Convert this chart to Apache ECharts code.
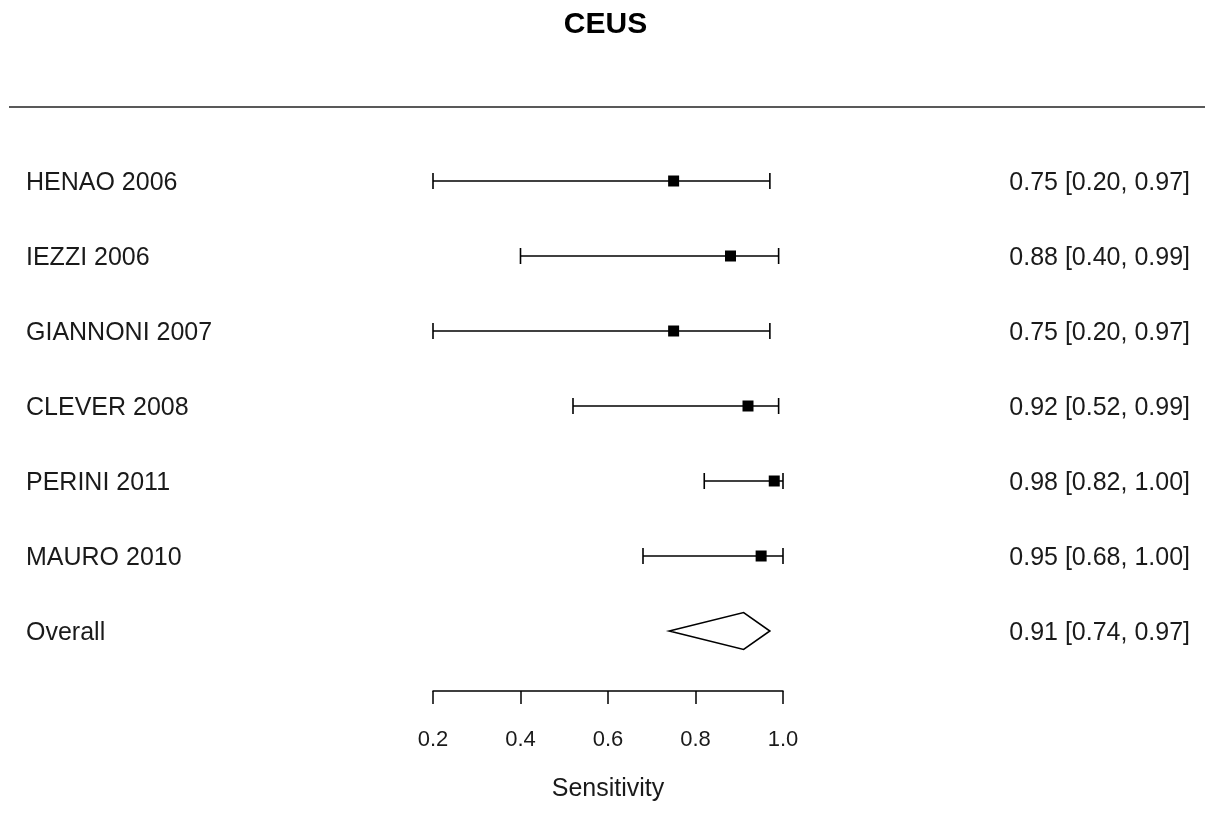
<!DOCTYPE html>
<html>
<head>
<meta charset="utf-8">
<script src="https://cdn.jsdelivr.net/npm/echarts@6/dist/echarts.min.js"></script>
<style>html,body{margin:0;padding:0;background:#fff}#c{width:1211px;height:816px}</style>
</head>
<body>
<div id="c"></div>
<script>
const studies = ['HENAO 2006','IEZZI 2006','GIANNONI 2007','CLEVER 2008','PERINI 2011','MAURO 2010'];
const estimate = [0.75, 0.88, 0.75, 0.92, 0.98, 0.95];
const lower = [0.20, 0.40, 0.20, 0.52, 0.82, 0.68];
const upper = [0.97, 0.99, 0.97, 0.99, 1.00, 1.00];
const overallLabel = 'Overall';
const overall = [0.91, 0.74, 0.97]; // estimate, lower, upper
const xTicks = [0.2, 0.4, 0.6, 0.8, 1.0];
const titleText = 'CEUS';
const xName = 'Sensitivity';

const FONT = '"Liberation Sans", Arial, sans-serif';
const TXT = '#1a1a1a';
const nRows = studies.length + 1;
const rowOf = i => nRows - i;

function ciText(e, l, u) {
  return e.toFixed(2) + ' [' + l.toFixed(2) + ', ' + u.toFixed(2) + ']';
}

const studyData = studies.map((s, i) => [estimate[i], rowOf(i), lower[i], upper[i], i]);

const chart = echarts.init(document.getElementById('c'), null, {renderer: 'canvas'});
chart.setOption({
  animation: false,
  backgroundColor: '#fff',
  title: {
    text: titleText, left: 'center', top: 5,
    textStyle: {fontFamily: FONT, fontSize: 30, fontWeight: 'bold', color: '#000'}
  },
  graphic: [{
    type: 'line', shape: {x1: 9, y1: 107, x2: 1205, y2: 107},
    style: {stroke: '#222', lineWidth: 1.5}
  }],
  grid: {left: 433, right: 428, top: 106, bottom: 125, containLabel: false},
  xAxis: {
    type: 'value', min: 0.2, max: 1.0, interval: 0.2,
    axisLine: {show: true, lineStyle: {color: '#000', width: 1.5}},
    axisTick: {show: true, length: 13, lineStyle: {color: '#000', width: 1.5}},
    axisLabel: {margin: 38, fontFamily: FONT, fontSize: 22, color: TXT,
      formatter: v => v.toFixed(1)},
    splitLine: {show: false},
    name: xName, nameLocation: 'middle', nameGap: 86,
    nameTextStyle: {fontFamily: FONT, fontSize: 25, color: TXT}
  },
  yAxis: {
    type: 'value', min: 0.2, max: 8, show: false, splitLine: {show: false}
  },
  series: [{
    type: 'custom',
    data: studyData,
    renderItem: function (params, api) {
      const est = api.value(0), row = api.value(1), lo = api.value(2), hi = api.value(3);
      const idx = api.value(4);
      const pE = api.coord([est, row]);
      const pL = api.coord([lo, row]);
      const pH = api.coord([hi, row]);
      const cap = 8, sq = 11;
      const ls = {stroke: '#000', lineWidth: 1.6};
      return {
        type: 'group',
        children: [
          {type: 'line', shape: {x1: pL[0], y1: pL[1], x2: pH[0], y2: pH[1]}, style: ls},
          {type: 'line', shape: {x1: pL[0], y1: pL[1] - cap, x2: pL[0], y2: pL[1] + cap}, style: ls},
          {type: 'line', shape: {x1: pH[0], y1: pH[1] - cap, x2: pH[0], y2: pH[1] + cap}, style: ls},
          {type: 'rect', shape: {x: pE[0] - sq / 2, y: pE[1] - sq / 2, width: sq, height: sq}, style: {fill: '#000'}},
          {type: 'text', x: 26, y: pE[1] + 2, style: {text: studies[idx], fontFamily: FONT, fontSize: 25, fill: TXT, align: 'left', verticalAlign: 'middle'}},
          {type: 'text', x: 1190, y: pE[1] + 2, style: {text: ciText(est, lo, hi), fontFamily: FONT, fontSize: 25, fill: TXT, align: 'right', verticalAlign: 'middle'}}
        ]
      };
    }
  }, {
    type: 'custom',
    data: [[overall[0], 1, overall[1], overall[2]]],
    renderItem: function (params, api) {
      const est = api.value(0), row = api.value(1), lo = api.value(2), hi = api.value(3);
      const pE = api.coord([est, row]);
      const pL = api.coord([lo, row]);
      const pH = api.coord([hi, row]);
      const h = 18.5;
      return {
        type: 'group',
        children: [
          {type: 'polygon', shape: {points: [[pL[0], pL[1]], [pE[0], pE[1] - h], [pH[0], pH[1]], [pE[0], pE[1] + h]]},
            style: {fill: '#fff', stroke: '#000', lineWidth: 1.6}},
          {type: 'text', x: 26, y: pE[1] + 2, style: {text: overallLabel, fontFamily: FONT, fontSize: 25, fill: TXT, align: 'left', verticalAlign: 'middle'}},
          {type: 'text', x: 1190, y: pE[1] + 2, style: {text: ciText(est, lo, hi), fontFamily: FONT, fontSize: 25, fill: TXT, align: 'right', verticalAlign: 'middle'}}
        ]
      };
    }
  }]
});
</script>
</body>
</html>
